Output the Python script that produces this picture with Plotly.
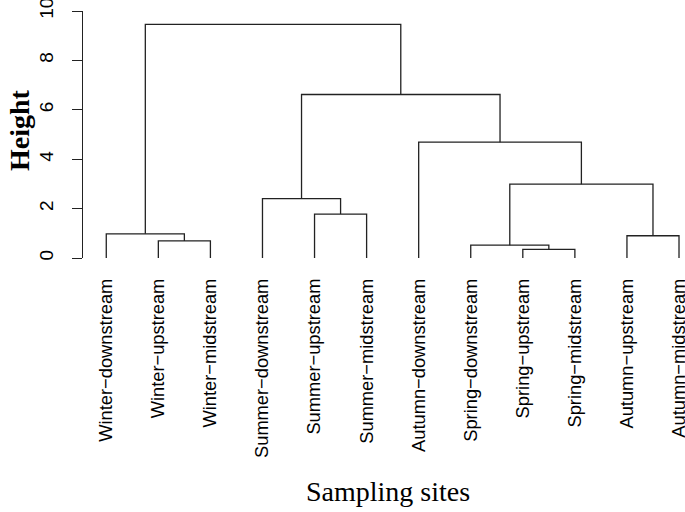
import plotly.graph_objects as go

# Leaf labels in dendrogram order
leaf_labels = ["Winter−downstream", "Winter−upstream", "Winter−midstream",
               "Summer−downstream", "Summer−upstream", "Summer−midstream",
               "Autumn−downstream", "Spring−downstream", "Spring−upstream",
               "Spring−midstream", "Autumn−upstream", "Autumn−midstream"]

# Merge table (R hclust style: negative = leaf index (1-based), positive = earlier merge)
merge_left = [-9, -8, -2, -11, -1, -5, -4, 2, -7, 7, 5]
merge_right = [-10, 1, -3, -12, 3, -6, 6, 4, 8, 9, 10]
merge_height = [0.35, 0.52, 0.69, 0.90, 0.98, 1.78, 2.40, 2.99, 4.69, 6.62, 9.46]

y_ticks = [0, 2, 4, 6, 8, 10]

leaf_x = {i + 1: i + 1 for i in range(len(leaf_labels))}
node_x, node_h = {}, {}


def pos(ref):
    if ref < 0:
        return leaf_x[-ref], 0.0
    return node_x[ref], node_h[ref]


xs, ys = [], []
for k, (a, b, h) in enumerate(zip(merge_left, merge_right, merge_height), start=1):
    xa, ha = pos(a)
    xb, hb = pos(b)
    xs += [xa, xa, xb, xb, None]
    ys += [ha, h, h, hb, None]
    node_x[k] = (xa + xb) / 2
    node_h[k] = h

fig = go.Figure()
fig.add_trace(go.Scatter(x=xs, y=ys, mode="lines",
                         line=dict(color="#222222", width=1.3),
                         hoverinfo="skip", showlegend=False, cliponaxis=False))

W, H = 685, 512
ML, MR, MT, MB = 83, 0, 11, 254
PW, PH = W - ML - MR, H - MT - MB
fig.update_layout(
    width=W, height=H,
    margin=dict(l=ML, r=MR, t=MT, b=MB, autoexpand=False),
    paper_bgcolor="white", plot_bgcolor="white",
    font=dict(family="Liberation Sans, Arial, sans-serif", size=18.3, color="#000"),
    xaxis=dict(range=[0.553, 12.115], tickmode="array", automargin=False,
               tickvals=list(range(1, len(leaf_labels) + 1)), ticktext=leaf_labels,
               tickangle=-90, ticks="", showline=False, showgrid=False, zeroline=False,
               ticklabelstandoff=16, ticklabeloverflow="allow",
               tickfont=dict(family="Liberation Sans, Arial, sans-serif", size=18.3, color="#000")),
    yaxis=dict(range=[0, 10.0001], tickmode="array", tickvals=y_ticks, automargin=False,
               ticktext=[str(v) for v in y_ticks], tickangle=-90,
               ticks="outside", ticklen=10, tickwidth=1.3, tickcolor="#222222",
               showline=True, linecolor="#222222", linewidth=1.3,
               showgrid=False, zeroline=False, ticklabelstandoff=11, ticklabeloverflow="allow",
               tickfont=dict(family="Liberation Sans, Arial, sans-serif", size=19, color="#000")),
    annotations=[
        dict(text="<b>Height</b>", xref="paper", yref="paper", x=(19 - ML) / PW,
             y=(H - MB - 130) / PH, xanchor="center", yanchor="middle",
             textangle=-90, showarrow=False,
             font=dict(family="Liberation Serif, Times New Roman, serif", size=28, color="#000")),
        dict(text="Sampling sites", xref="paper", yref="paper",
             x=(388 - ML) / PW, y=-(492 - (H - MB)) / PH,
             xanchor="center", yanchor="middle", showarrow=False,
             font=dict(family="Liberation Serif, Times New Roman, serif", size=28, color="#000")),
    ],
)

fig.write_html("out.html", config={"displayModeBar": False},
               post_script="document.body.style.margin='0';document.body.style.overflow='hidden';")
